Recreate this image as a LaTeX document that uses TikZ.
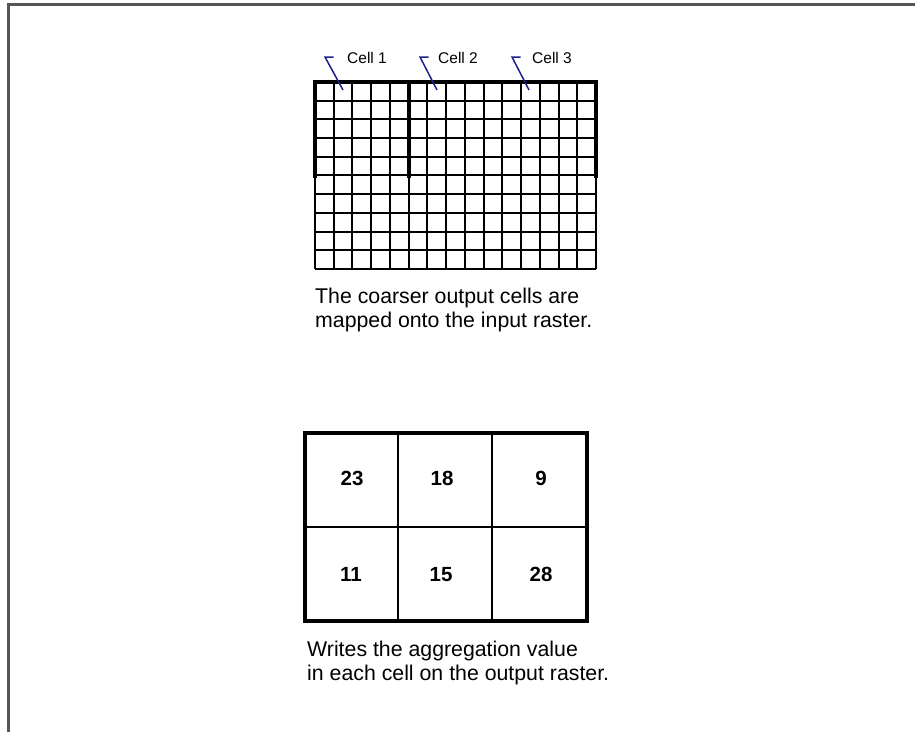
\documentclass[tikz,border=0pt]{standalone}
\usepackage{fontspec}
\setmainfont{Liberation Sans}
\definecolor{leaderblue}{RGB}{30,30,140}
\definecolor{framegray}{RGB}{85,85,85}
\tikzset{
  gridline/.style={line width=2pt, black},
  thickline/.style={line width=4pt, black, line cap=rect},
  tabthin/.style={line width=2pt, black},
  tabthick/.style={line width=4pt, black},
  leader/.style={line width=1.5pt, leaderblue},
  celllabel/.style={font=\fontsize{15.5}{18}\selectfont, anchor=base west, inner sep=0pt},
  caption/.style={font=\fontsize{21.3}{24}\selectfont, anchor=base west, inner sep=0pt},
  numtext/.style={font=\fontsize{20.5}{22}\bfseries\selectfont, inner sep=0pt, anchor=base},
}
\begin{document}
\begin{tikzpicture}[x=1pt,y=-1pt]
\useasboundingbox (0,0) rectangle (915,732);
% frame
\draw[framegray, line width=3pt] (8.5,732) -- (8.5,4.5) -- (915,4.5);

% input raster grid 15 x 10
\foreach \i in {0,...,15} {
  \pgfmathtruncatemacro{\xx}{round(315+\i*18.733)}
  \draw[gridline] (\xx,82) -- (\xx,269);
}
\foreach \j in {0,...,10} {
  \pgfmathtruncatemacro{\yy}{round(82+\j*18.7)}
  \draw[gridline] (315,\yy) -- (596,\yy);
}
% coarser output cells outline
\draw[thickline] (315,176) -- (315,82) -- (596,82) -- (596,176);
\draw[thickline] (409,82) -- (409,176);

% cell labels with leaders
\node[celllabel] (c1) at (347,63) {Cell 1};
\node[celllabel] (c2) at (438,63) {Cell 2};
\node[celllabel] (c3) at (532,63) {Cell 3};
\coordinate (t1) at (333.5,57);
\coordinate (t2) at (428.5,57);
\coordinate (t3) at (520.5,57);
\coordinate (p1) at (343,90);
\coordinate (p2) at (437,90);
\coordinate (p3) at (529,90);
\draw[leader] (t1) -- ++(-8.5,0) -- (p1);
\draw[leader] (t2) -- ++(-8.5,0) -- (p2);
\draw[leader] (t3) -- ++(-8.5,0) -- (p3);

\node[caption] (cap1a) at (315,303) {The coarser output cells are};
\node[caption] (cap1b) at (315,327) {mapped onto the input raster.};

% output raster 3 x 2
\draw[tabthin] (398,433) -- (398,621);
\draw[tabthin] (492,433) -- (492,621);
\draw[tabthin] (305,527) -- (587,527);
\draw[tabthick] (305,433) rectangle (587,621);

\node[numtext] (n11) at (352,485) {23};
\node[numtext] (n12) at (442,485) {18};
\node[numtext] (n13) at (541,485) {9};
\node[numtext] (n21) at (351,581.5) {11};
\node[numtext] (n22) at (441,581.5) {15};
\node[numtext] (n23) at (541,581.5) {28};

\node[caption] (cap2a) at (307,656.5) {Writes the aggregation value};
\node[caption] (cap2b) at (307,680) {in each cell on the output raster.};
\end{tikzpicture}
\end{document}
